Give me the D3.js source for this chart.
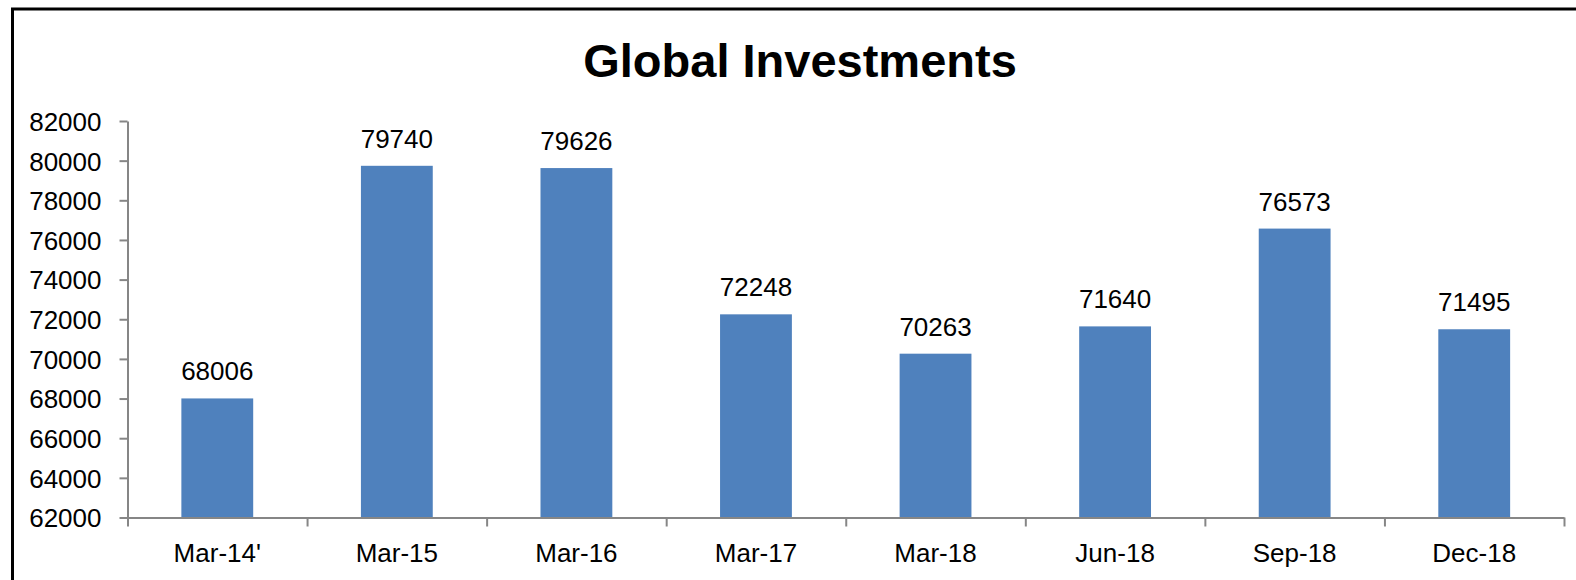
<!DOCTYPE html>
<html>
<head>
<meta charset="utf-8">
<script src="https://cdn.jsdelivr.net/npm/d3@7"></script>
<style>
html,body{margin:0;padding:0;background:#fff;overflow:hidden;}
svg{display:block;}
text{font-family:"Liberation Sans",Arial,sans-serif;fill:#000;}
</style>
</head>
<body>
<svg id="chart" width="1576" height="580"></svg>
<script>
const title = "Global Investments";
const categories = ["Mar-14'", "Mar-15", "Mar-16", "Mar-17", "Mar-18", "Jun-18", "Sep-18", "Dec-18"];
const values = [68006, 79740, 79626, 72248, 70263, 71640, 76573, 71495];
const yTicks = [62000, 64000, 66000, 68000, 70000, 72000, 74000, 76000, 78000, 80000, 82000];

(function () {
const svg = d3.select("#chart");
const W = 1576, H = 580;
svg.append("rect").attr("width", W).attr("height", H).attr("fill", "#fff");

// outer frame (right and bottom edges fall outside the picture)
svg.append("rect")
  .attr("x", 12.5).attr("y", 9).attr("width", 1600).attr("height", 620)
  .attr("fill", "none").attr("stroke", "#000").attr("stroke-width", 3);

const plotL = 127.5, plotR = 1564, plotT = 121, plotB = 517.5;

const x = d3.scaleBand().domain(categories).range([plotL, plotR]).paddingInner(0).paddingOuter(0);
const xEdges = d3.scaleLinear().domain([0, categories.length]).range([plotL, plotR]);
const y = d3.scaleLinear().domain([62000, 82000]).range([plotB, plotT]);
const barW = x.bandwidth() * 0.4;
const axisColor = "#868686";

// title
svg.append("text")
  .attr("x", 800).attr("y", 77)
  .attr("text-anchor", "middle")
  .attr("font-size", 47).attr("font-weight", "bold")
  .text(title);

// bars
svg.append("g").selectAll("rect")
  .data(values)
  .join("rect")
  .attr("x", (d, i) => x(categories[i]) + x.bandwidth() / 2 - barW / 2)
  .attr("width", barW)
  .attr("y", d => y(d))
  .attr("height", d => plotB - y(d))
  .attr("fill", "#4F81BD");

// value labels
svg.append("g").selectAll("text")
  .data(values)
  .join("text")
  .attr("x", (d, i) => x(categories[i]) + x.bandwidth() / 2)
  .attr("y", d => y(d) - 18)
  .attr("text-anchor", "middle")
  .attr("font-size", 26)
  .text(d => d);

// y axis
const yAxis = svg.append("g")
  .attr("transform", `translate(${plotL},0)`)
  .call(d3.axisLeft(y).tickValues(yTicks).tickSize(8).tickSizeOuter(0).tickPadding(18).tickFormat(d3.format("d")));
yAxis.select(".domain").attr("stroke", axisColor).attr("stroke-width", 2);
yAxis.selectAll(".tick line").attr("stroke", axisColor).attr("stroke-width", 2);
yAxis.selectAll(".tick text")
  .attr("font-size", 26).attr("font-family", "Liberation Sans, Arial, sans-serif")
  .attr("fill", "#000").attr("dy", "0.36em");

// x axis (ticks at category boundaries)
const xAxis = svg.append("g")
  .attr("transform", `translate(0,${plotB})`)
  .call(d3.axisBottom(xEdges).tickValues(d3.range(categories.length + 1)).tickSize(9).tickSizeOuter(0).tickFormat(""));
xAxis.select(".domain").attr("stroke", axisColor).attr("stroke-width", 2);
xAxis.selectAll(".tick line").attr("stroke", axisColor).attr("stroke-width", 2);

// category labels
svg.append("g").selectAll("text")
  .data(categories)
  .join("text")
  .attr("x", d => x(d) + x.bandwidth() / 2)
  .attr("y", 562)
  .attr("text-anchor", "middle")
  .attr("font-size", 26)
  .text(d => d);
})();
</script>
</body>
</html>
